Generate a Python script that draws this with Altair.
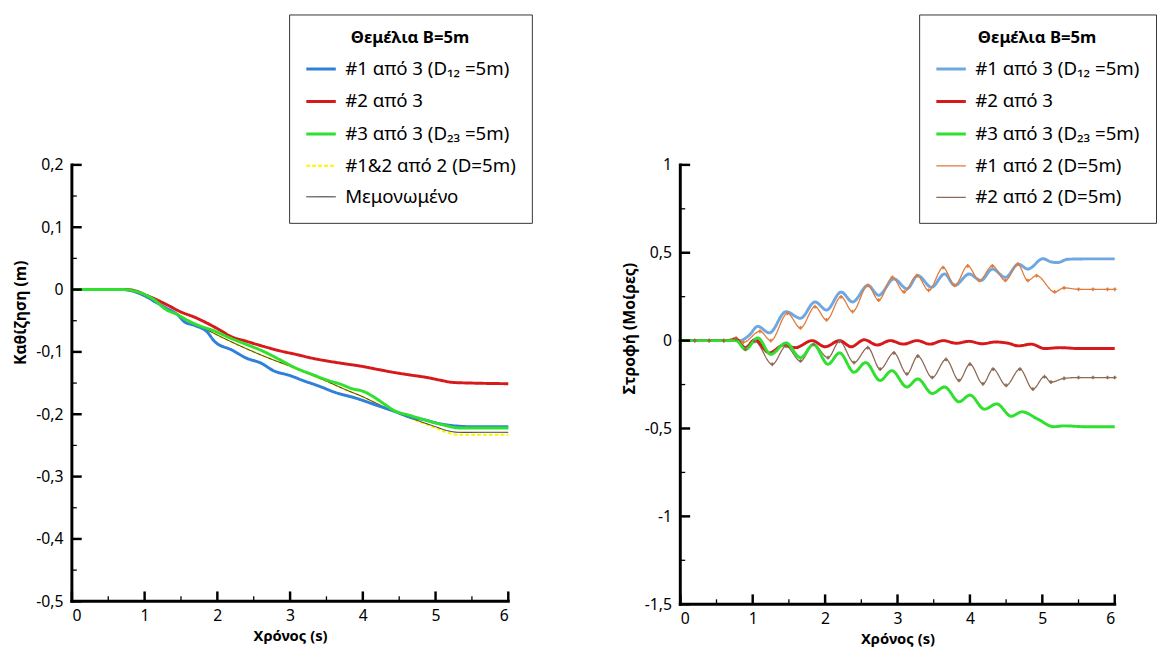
import altair as alt
import pandas as pd

# ---------------- data: left panel (settlement) ----------------
L_SERIES = ["#1 από 3 (D₁₂ =5m)", "#2 από 3", "#3 από 3 (D₂₃ =5m)", "#1&2 από 2 (D=5m)", "Μεμονωμένο"]

l1_t = [0, 0.7, 0.85, 1.0, 1.15, 1.3, 1.46, 1.55, 1.7, 1.86, 1.96, 2.2, 2.4, 2.6, 2.77, 3.0, 3.18, 3.4, 3.62, 3.9, 4.2, 4.45, 4.66, 4.85, 5.01, 5.15, 5.3, 5.5, 6.0]
l1_v = [0, 0, -0.003, -0.01, -0.02, -0.03, -0.041, -0.052, -0.058, -0.068, -0.083, -0.097, -0.11, -0.118, -0.13, -0.138, -0.146, -0.155, -0.165, -0.174, -0.186, -0.196, -0.205, -0.209, -0.214, -0.217, -0.219, -0.22, -0.22]

l2_t = [0, 0.75, 0.9, 1.0, 1.14, 1.3, 1.5, 1.7, 1.91, 2.05, 2.18, 2.4, 2.63, 2.85, 3.08, 3.3, 3.53, 3.75, 3.98, 4.2, 4.43, 4.65, 4.88, 5.05, 5.24, 5.5, 6.0]
l2_v = [0, 0, -0.003, -0.008, -0.015, -0.024, -0.036, -0.045, -0.057, -0.066, -0.075, -0.083, -0.091, -0.098, -0.104, -0.11, -0.115, -0.119, -0.123, -0.128, -0.133, -0.137, -0.141, -0.145, -0.149, -0.15, -0.151]

l3_t = [0, 0.7, 0.85, 1.0, 1.15, 1.28, 1.45, 1.6, 1.73, 1.95, 2.18, 2.4, 2.63, 2.85, 3.08, 3.3, 3.53, 3.7, 3.85, 4.0, 4.16, 4.3, 4.43, 4.65, 4.88, 5.1, 5.33, 5.6, 6.0]
l3_v = [0, 0, -0.002, -0.008, -0.018, -0.031, -0.04, -0.05, -0.057, -0.066, -0.078, -0.088, -0.099, -0.112, -0.126, -0.136, -0.146, -0.152, -0.159, -0.163, -0.173, -0.184, -0.194, -0.202, -0.21, -0.217, -0.222, -0.222, -0.222]

l4_t = [0, 0.75, 1.0, 1.25, 1.5, 1.75, 2.0, 2.25, 2.5, 2.75, 3.0, 3.25, 3.5, 3.75, 4.0, 4.25, 4.5, 4.75, 5.0, 5.15, 5.33, 5.6, 6.0]
l4_v = [0, 0, -0.01, -0.027, -0.043, -0.058, -0.073, -0.087, -0.1, -0.112, -0.123, -0.135, -0.147, -0.16, -0.172, -0.186, -0.199, -0.211, -0.222, -0.229, -0.233, -0.233, -0.233]

l5_t = [0, 0.75, 1.0, 1.25, 1.5, 1.75, 2.0, 2.25, 2.5, 2.75, 3.0, 3.25, 3.5, 3.75, 4.0, 4.25, 4.5, 4.75, 5.0, 5.15, 5.33, 5.6, 6.0]
l5_v = [0, 0, -0.01, -0.027, -0.043, -0.058, -0.073, -0.087, -0.1, -0.112, -0.123, -0.135, -0.147, -0.16, -0.172, -0.186, -0.199, -0.21, -0.22, -0.226, -0.229, -0.229, -0.229]

# ---------------- data: right panel (rotation) ----------------
R_SERIES = ["#1 από 3 (D₁₂ =5m)", "#2 από 3", "#3 από 3 (D₂₃ =5m)", "#1 από 2 (D=5m)", "#2 από 2 (D=5m)"]

r1_t = [0, 0.73, 0.82, 0.95, 1.07, 1.23, 1.46, 1.66, 1.86, 2.02, 2.22, 2.38, 2.59, 2.74, 2.95, 3.13, 3.28, 3.47, 3.65, 3.79, 3.99, 4.15, 4.31, 4.49, 4.67, 4.8, 5.01, 5.12, 5.21, 5.35, 5.6, 6.0]
r1_v = [0, 0, 0.0, 0.03, 0.081, 0.044, 0.165, 0.127, 0.22, 0.174, 0.276, 0.22, 0.314, 0.258, 0.351, 0.295, 0.37, 0.304, 0.379, 0.314, 0.379, 0.342, 0.407, 0.36, 0.435, 0.407, 0.466, 0.448, 0.444, 0.463, 0.465, 0.465]

r2_t = [0, 0.7, 0.76, 0.9, 1.03, 1.23, 1.43, 1.59, 1.82, 2.0, 2.2, 2.36, 2.54, 2.72, 2.9, 3.08, 3.27, 3.45, 3.63, 3.81, 3.99, 4.17, 4.35, 4.53, 4.67, 4.85, 5.03, 5.25, 5.5, 6.0]
r2_v = [0, 0, 0.01, -0.04, 0.005, -0.07, -0.025, -0.04, 0.0, -0.035, 0.0, -0.035, 0.005, -0.025, 0.0, -0.02, 0.0, -0.02, 0.0, -0.015, -0.004, -0.018, -0.008, -0.015, -0.03, -0.02, -0.045, -0.04, -0.045, -0.045]

r3_t = [0, 0.77, 0.9, 1.07, 1.25, 1.46, 1.66, 1.84, 2.04, 2.2, 2.4, 2.56, 2.76, 2.92, 3.13, 3.28, 3.48, 3.65, 3.85, 4.0, 4.2, 4.37, 4.57, 4.72, 4.93, 5.16, 5.3, 5.6, 6.0]
r3_v = [0, 0, -0.05, 0.015, -0.078, -0.013, -0.097, -0.022, -0.134, -0.07, -0.18, -0.125, -0.227, -0.171, -0.264, -0.218, -0.301, -0.264, -0.348, -0.31, -0.39, -0.36, -0.43, -0.405, -0.445, -0.49, -0.485, -0.49, -0.49]

r4_t = [0, 0.2, 0.4, 0.6, 0.77, 0.87, 1.1, 1.25, 1.48, 1.66, 1.86, 2.02, 2.22, 2.38, 2.59, 2.74, 2.93, 3.09, 3.27, 3.43, 3.63, 3.79, 3.97, 4.13, 4.31, 4.49, 4.66, 4.8, 4.92, 5.17, 5.3, 5.5, 5.7, 5.9, 6.0]
r4_v = [0, 0, 0, 0, 0.015, -0.01, 0.053, 0.0, 0.155, 0.072, 0.193, 0.118, 0.249, 0.165, 0.314, 0.23, 0.36, 0.277, 0.37, 0.286, 0.416, 0.314, 0.425, 0.342, 0.425, 0.342, 0.435, 0.342, 0.37, 0.277, 0.3, 0.292, 0.292, 0.292, 0.292]

r5_t = [0, 0.2, 0.4, 0.6, 0.77, 0.9, 1.03, 1.27, 1.46, 1.66, 1.84, 2.04, 2.2, 2.4, 2.59, 2.76, 2.95, 3.13, 3.28, 3.48, 3.67, 3.85, 4.0, 4.18, 4.32, 4.5, 4.69, 4.87, 5.03, 5.12, 5.3, 5.5, 5.7, 5.9, 6.0]
r5_v = [0, 0, 0, 0, 0.01, -0.05, -0.005, -0.135, -0.032, -0.116, -0.022, -0.097, -0.004, -0.125, -0.04, -0.162, -0.07, -0.19, -0.088, -0.21, -0.107, -0.227, -0.134, -0.246, -0.162, -0.255, -0.162, -0.276, -0.205, -0.236, -0.215, -0.21, -0.21, -0.21, -0.21]

# ---------------- axis ticks ----------------
X_MAJOR = [0, 1, 2, 3, 4, 5, 6]
X_MINOR = [0.5, 1.5, 2.5, 3.5, 4.5, 5.5]
L_Y_MAJOR = [-0.5, -0.4, -0.3, -0.2, -0.1, 0, 0.1, 0.2]
L_Y_MINOR = [-0.45, -0.35, -0.25, -0.15, -0.05, 0.05, 0.15]
R_Y_MAJOR = [-1.5, -1, -0.5, 0, 0.5, 1]
R_Y_MINOR = [-1.25, -0.75, -0.25, 0.25, 0.75]
X_DOMAIN = [0, 6]
L_Y_DOMAIN = [-0.5, 0.2]
R_Y_DOMAIN = [-1.5, 1]

LEGEND_TITLE = "Θεμέλια B=5m"
FONT = "Noto Sans"


def frame(series, ts, vs):
    rows = []
    for s, t, v in zip(series, ts, vs):
        for a, b in zip(t, v):
            rows.append({"series": s, "t": a, "v": b})
    return pd.DataFrame(rows)


left_df = frame(L_SERIES, [l1_t, l2_t, l3_t, l4_t, l5_t], [l1_v, l2_v, l3_v, l4_v, l5_v])
right_df = frame(R_SERIES, [r1_t, r2_t, r3_t, r4_t, r5_t], [r1_v, r2_v, r3_v, r4_v, r5_v])

LABEL_EXPR = "replace(toString(datum.value), '.', ',')"


def panel(df, series, colors, widths, dashes, draw_order, ydom, ymaj, ymin, ytitle,
          title_y, lx, ly, marker_series, w, h):
    xs = alt.Scale(domain=X_DOMAIN, nice=False, zero=False)
    ys = alt.Scale(domain=ydom, nice=False, zero=False)
    leg = alt.Legend(
        title=LEGEND_TITLE, orient="none", legendX=lx, legendY=ly,
        symbolType="stroke", symbolSize=900, labelFontSize=19, labelFont=FONT,
        titleFont=FONT, titleFontSize=17, titleFontWeight="bold", titleAnchor="middle",
        titlePadding=6, rowPadding=6, padding=16, strokeColor="#333333",
        fillColor="white", labelOffset=8, labelLimit=400, titleColor="black",
        labelColor="black",
    )
    x_axis = alt.Axis(values=X_MAJOR, ticks=False, grid=False, domain=False,
                      labelExpr=LABEL_EXPR, labelFontSize=16, labelFont=FONT,
                      labelColor="black", labelPadding=7, title="Χρόνος (s)", titleFont=FONT,
                      titleFontSize=15, titleFontWeight="bold", titleColor="black",
                      titlePadding=5, orient="bottom")
    y_axis = alt.Axis(values=ymaj, ticks=False, grid=False, domain=False,
                      labelExpr=LABEL_EXPR, labelFontSize=16, labelFont=FONT,
                      labelColor="black", labelPadding=9, title=ytitle, titleFont=FONT,
                      titleFontSize=16, titleFontWeight="bold", titleColor="black",
                      titlePadding=7, titleY=title_y, orient="left")
    X = alt.X("t:Q", scale=xs, axis=x_axis)
    Y = alt.Y("v:Q", scale=ys, axis=y_axis)
    color = alt.Color("series:N", scale=alt.Scale(domain=series, range=colors), legend=leg)
    sw = alt.StrokeWidth("series:N", scale=alt.Scale(type="ordinal", domain=series, range=widths), legend=leg)
    sd = alt.StrokeDash("series:N", scale=alt.Scale(domain=series, range=dashes), legend=leg)

    base = alt.Chart(df)
    layers = []
    for s in draw_order:
        layers.append(base.transform_filter(alt.datum.series == s)
                      .mark_line(interpolate="monotone")
                      .encode(x=X, y=Y, color=color, strokeWidth=sw, strokeDash=sd))
    for s in marker_series:
        layers.append(base.transform_filter(alt.datum.series == s)
                      .mark_point(shape="cross", filled=True, size=14, opacity=1, strokeWidth=0)
                      .encode(x=X, y=Y, color=color))

    # axis lines (left and bottom) drawn from the domains through the scales
    left_line = alt.Chart(pd.DataFrame({"t": [X_DOMAIN[0]], "v": [ydom[0]], "v2": [ydom[1]]})).mark_rule(
        color="black", strokeWidth=3, strokeCap="square").encode(x=X, y=Y, y2="v2:Q")
    bottom_line = alt.Chart(pd.DataFrame({"t": [X_DOMAIN[0]], "t2": [X_DOMAIN[1]], "v": [ydom[0]]})).mark_rule(
        color="black", strokeWidth=3, strokeCap="square").encode(x=X, x2="t2:Q", y=Y)

    # inward axis ticks drawn from the tick arrays through the scales
    def yticks(vals, length, width):
        return alt.Chart(pd.DataFrame({"v": vals})).mark_rule(color="black", strokeWidth=width).encode(
            y=Y, x=alt.value(0), x2=alt.value(length))

    def xticks(vals, length, width):
        return alt.Chart(pd.DataFrame({"t": vals})).mark_rule(color="black", strokeWidth=width).encode(
            x=X, y=alt.value(h), y2=alt.value(h - length))

    layers += [yticks(ymaj, 10, 2.5), yticks(ymin, 5, 1.3), xticks(X_MAJOR, 10, 2.5),
               xticks(X_MINOR, 5, 1.3), left_line, bottom_line]
    return alt.layer(*layers).properties(width=w, height=h)


left = panel(
    left_df, L_SERIES,
    ["#2F80D8", "#D7191C", "#2FE02F", "#FFF200", "#222222"],
    [3, 3, 3, 2, 1],
    [[1, 0], [1, 0], [1, 0], [4, 2], [1, 0]],
    ["#1&2 από 2 (D=5m)", "Μεμονωμένο", "#1 από 3 (D₁₂ =5m)", "#2 από 3", "#3 από 3 (D₂₃ =5m)"],
    L_Y_DOMAIN, L_Y_MAJOR, L_Y_MINOR, "Καθίζηση (m)", 150,
    221, -153, [], 444, 444,
)

right = panel(
    right_df, R_SERIES,
    ["#6FA8E0", "#D7191C", "#2FE02F", "#E07B39", "#8C6A55"],
    [3, 3, 3, 1.3, 1.3],
    [[1, 0], [1, 0], [1, 0], [1, 0], [1, 0]],
    ["#1 από 3 (D₁₂ =5m)", "#2 από 2 (D=5m)", "#1 από 2 (D=5m)", "#2 από 3", "#3 από 3 (D₂₃ =5m)"],
    R_Y_DOMAIN, R_Y_MAJOR, R_Y_MINOR, "Στροφή (Μοίρες)", 166,
    243, -153, ["#1 από 2 (D=5m)", "#2 από 2 (D=5m)"], 442, 447,
)

chart = (
    alt.hconcat(left, right, spacing=90)
    .resolve_scale(color="independent", strokeWidth="independent", strokeDash="independent")
    .properties(padding={"left": 5, "top": 0, "right": 0, "bottom": 0})
    .configure(font=FONT, background="white")
    .configure_view(strokeWidth=0, stroke="transparent")
    .configure_axis(labelColor="black", titleColor="black", grid=False)
)

chart.save("out.html", embed_options={"renderer": "svg", "actions": False})
